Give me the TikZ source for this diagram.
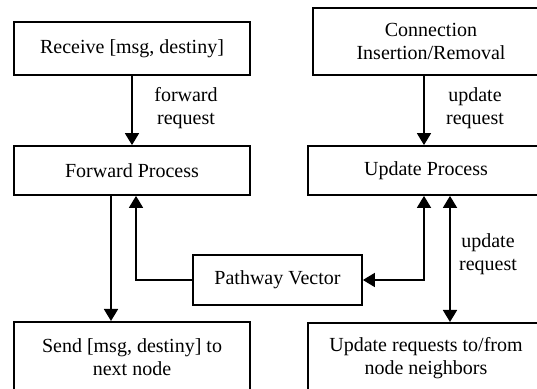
\documentclass[tikz,border=0pt]{standalone}
\usepackage{fontspec}
\setmainfont{Liberation Serif}
\usetikzlibrary{arrows.meta,positioning}
\tikzset{
  pv/box/.style={
    draw=black,
    line width=0.9pt,
    fill=white,
    align=center,
    minimum width=118pt,
    minimum height=24.5pt,
    inner sep=2pt,
    font=\fontsize{10}{11.5}\selectfont
  },
  pv/arrow/.style={-{Triangle[length=6pt,width=7pt]}, line width=0.9pt},
  pv/twoway/.style={{Triangle[length=6pt,width=7pt]}-{Triangle[length=6pt,width=7pt]}, line width=0.9pt},
  pv/label/.style={font=\fontsize{10}{11.5}\selectfont, align=center}
}

\begin{document}
\begin{tikzpicture}[x=0.5pt,y=-0.5pt]
  \useasboundingbox (0,0) rectangle (537,389);
  \clip (0,0) rectangle (537,389);
  % left column
  \node[pv/box,minimum height=26.5pt] (rcv) at (132,48.5) {Receive [msg, destiny]};
  \node[pv/box] (fwd) at (132,170.5) {Forward Process};
  \node[pv/box,minimum height=35pt,anchor=north] (send) at (132,321) {Send [msg, destiny] to\\next node};
  % right column
  \node[pv/box,minimum height=33.5pt] (conn) at (431,41.5) {Connection\\Insertion/Removal};
  \node[pv/box] (upd) at (426,170.5) {Update Process};
  \node[pv/box,minimum height=35pt,anchor=north] (nbr) at (426,322) {Update requests to/from\\node neighbors};
  % middle
  \node[pv/box,minimum width=84.5pt,minimum height=25pt] (path) at (277.5,280) {Pathway Vector};

  \draw[pv/arrow] (rcv.south -| rcv.center) -- (fwd.north);
  \draw[pv/arrow] ([xshift=-10.5pt]fwd.south) -- ([xshift=-10.5pt]send.north);
  \draw[pv/arrow] (path.west) -| ([xshift=2pt]fwd.south);
  \draw[pv/arrow] ([xshift=-1pt]upd.north |- conn.south) -- ([xshift=-1pt]upd.north);
  \draw[pv/twoway] (path.east) -| ([xshift=-1pt]upd.south);
  \draw[pv/twoway] ([xshift=12pt]upd.south) -- ([xshift=12pt]nbr.north);

  \node[pv/label] (fwdreq) at (186,108.5) {forward\\request};
  \node[pv/label] (updreq) at (475,108.5) {update\\request};
  \node[pv/label] (nbrreq) at (488,254) {update\\request};
\end{tikzpicture}
\end{document}
